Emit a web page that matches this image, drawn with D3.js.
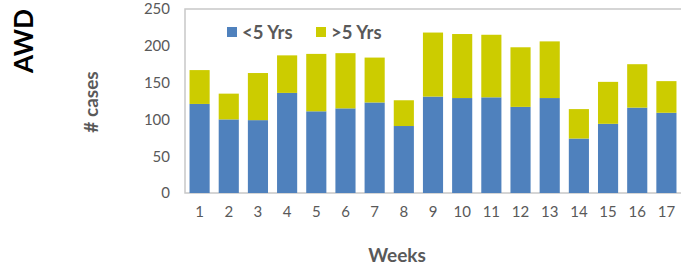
<!DOCTYPE html>
<html><head><meta charset="utf-8">
<script src="https://cdn.jsdelivr.net/npm/d3@7/dist/d3.min.js"></script>
<style>body{margin:0;background:#fff}</style>
</head><body>
<svg id="c" width="681" height="268"></svg>
<script>
const weeks = ["1","2","3","4","5","6","7","8","9","10","11","12","13","14","15","16","17"];
const under5 = [121,100,99,136,111,115,123,91,131,129,130,117,129,74,94,116,109];
const over5 = [46,35,64,51,78,75,61,35,87,87,85,81,77,40,57,59,43];
const seriesNames = ["<5 Yrs", ">5 Yrs"];
const colors = ["#4F81BD", "#CCCC00"];
const yTicks = [0,50,100,150,200,250];

const svg = d3.select("#c");
const m = {l:185, r:681, t:9, b:193};
const font = "Lato, 'Open Sans', sans-serif";
const x = d3.scaleBand().domain(weeks).range([m.l, m.r]).paddingInner(0.31).paddingOuter(0.155);
const y = d3.scaleLinear().domain([0,250]).range([m.b, m.t]);

const rows = weeks.map((w,i)=>({week:w, a:under5[i], b:over5[i]}));
const stack = d3.stack().keys(["a","b"])(rows);

// frame
svg.append("path").attr("d", `M${m.r},${m.t}H${m.l}V${m.b}H${m.r}`)
  .attr("fill","none").attr("stroke","#c8c8c8").attr("stroke-width",1.5);

svg.append("g").selectAll("g").data(stack).join("g").attr("fill",(d,i)=>colors[i])
  .selectAll("rect").data(d=>d).join("rect")
  .attr("x", d=>x(d.data.week)).attr("width", x.bandwidth())
  .attr("y", d=>y(d[1])).attr("height", d=>y(d[0])-y(d[1]));

const yAxis = svg.append("g").attr("transform",`translate(${m.l},0)`)
  .call(d3.axisLeft(y).tickValues(yTicks).tickSize(0).tickPadding(15));
yAxis.select(".domain").remove();
yAxis.selectAll("text").attr("font-family",font).attr("font-size",15).attr("fill","#595959");

const xAxis = svg.append("g").attr("transform",`translate(0,${m.b})`)
  .call(d3.axisBottom(x).tickSize(0).tickPadding(13));
xAxis.select(".domain").remove();
xAxis.selectAll("text").attr("font-family",font).attr("font-size",15).attr("fill","#595959");

svg.append("text").attr("x",397).attr("y",262).attr("text-anchor","middle")
  .attr("font-family",font).attr("font-weight","bold").attr("font-size",19).attr("fill","#595959").text("Weeks");
svg.append("text").attr("transform","translate(98,102) rotate(-90)").attr("text-anchor","middle")
  .attr("font-family",font).attr("font-weight","bold").attr("font-size",19).attr("fill","#595959").text("# cases");
svg.append("text").attr("transform","translate(33,41) rotate(-90)").attr("text-anchor","middle")
  .attr("font-family",font).attr("font-weight","bold").attr("font-size",26).attr("fill","#000").text("AWD");

// legend
const lx = [227, 316];
seriesNames.forEach((n,i)=>{
  svg.append("rect").attr("x",lx[i]).attr("y",27).attr("width",10).attr("height",10).attr("fill",colors[i]);
  svg.append("text").attr("x",lx[i]+15).attr("y",38.5).attr("font-family",font).attr("font-weight","bold")
    .attr("font-size",18.5).attr("fill","#595959").text(n);
});
</script>
</body></html>
